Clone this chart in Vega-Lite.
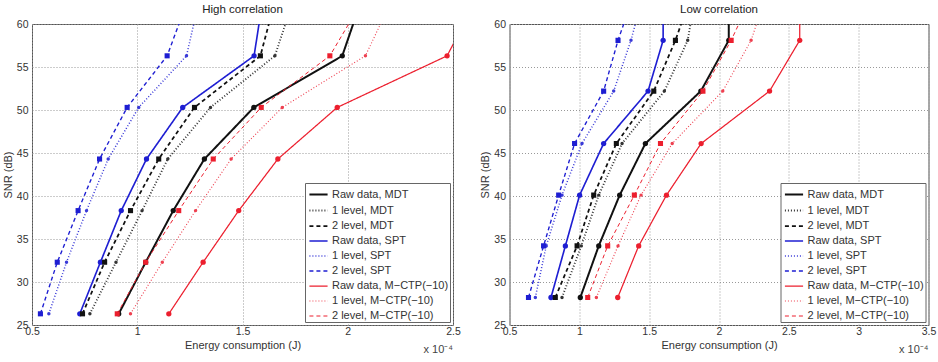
{
  "$schema": "https://vega.github.io/schema/vega-lite/v6.json",
  "padding": {"left": 1, "top": 3, "right": 0, "bottom": 0},
  "background": "white",
  "config": {
    "font": "Liberation Sans",
    "view": {"stroke": "#555", "strokeWidth": 1},
    "axis": {"labelFont": "Liberation Sans", "labelFontSize": 10.5, "labelColor": "#333", "labelFlush": false, "labelOverlap": false, "titleFont": "Liberation Sans", "titleFontSize": 11, "titleFontWeight": "normal", "titleColor": "#333", "gridColor": "#999", "gridDash": [1, 2], "gridOpacity": 1, "ticks": false, "domain": false},
    "axisY": {"labelPadding": 4, "titlePadding": 3},
    "axisX": {"labelPadding": 1, "titlePadding": 3},
    "title": {"font": "Liberation Sans", "fontSize": 11.5, "fontWeight": "normal", "color": "#222", "offset": 4},
    "legend": {"orient": "bottom-right", "offset": 3, "fillColor": "white", "strokeColor": "#666", "padding": 1, "labelFont": "Liberation Sans", "labelFontSize": 11, "labelColor": "#333", "symbolType": "stroke", "symbolSize": 330, "symbolStrokeWidth": 2, "symbolOffset": 2, "rowPadding": -5.6, "labelOffset": 3, "title": null}
  },
  "datasets": {
    "d": [
      {"p": "H", "s": "Raw data, MDT", "snr": 26.3, "e": 0.912}, {"p": "H", "s": "Raw data, MDT", "snr": 32.3, "e": 1.04}, {"p": "H", "s": "Raw data, MDT", "snr": 38.3, "e": 1.171}, {"p": "H", "s": "Raw data, MDT", "snr": 44.3, "e": 1.319}, {"p": "H", "s": "Raw data, MDT", "snr": 50.3, "e": 1.554}, {"p": "H", "s": "Raw data, MDT", "snr": 56.3, "e": 1.974}, {"p": "H", "s": "Raw data, MDT", "snr": 62.3, "e": 2.058},
      {"p": "H", "s": "1 level, MDT", "snr": 26.3, "e": 0.775}, {"p": "H", "s": "1 level, MDT", "snr": 32.3, "e": 0.899}, {"p": "H", "s": "1 level, MDT", "snr": 38.3, "e": 1.023}, {"p": "H", "s": "1 level, MDT", "snr": 44.3, "e": 1.145}, {"p": "H", "s": "1 level, MDT", "snr": 50.3, "e": 1.348}, {"p": "H", "s": "1 level, MDT", "snr": 56.3, "e": 1.654}, {"p": "H", "s": "1 level, MDT", "snr": 62.3, "e": 1.735},
      {"p": "H", "s": "2 level, MDT", "snr": 26.3, "e": 0.74}, {"p": "H", "s": "2 level, MDT", "snr": 32.3, "e": 0.845}, {"p": "H", "s": "2 level, MDT", "snr": 38.3, "e": 0.968}, {"p": "H", "s": "2 level, MDT", "snr": 44.3, "e": 1.102}, {"p": "H", "s": "2 level, MDT", "snr": 50.3, "e": 1.272}, {"p": "H", "s": "2 level, MDT", "snr": 56.3, "e": 1.585}, {"p": "H", "s": "2 level, MDT", "snr": 62.3, "e": 1.65},
      {"p": "H", "s": "Raw data, SPT", "snr": 26.3, "e": 0.727}, {"p": "H", "s": "Raw data, SPT", "snr": 32.3, "e": 0.825}, {"p": "H", "s": "Raw data, SPT", "snr": 38.3, "e": 0.924}, {"p": "H", "s": "Raw data, SPT", "snr": 44.3, "e": 1.044}, {"p": "H", "s": "Raw data, SPT", "snr": 50.3, "e": 1.216}, {"p": "H", "s": "Raw data, SPT", "snr": 56.3, "e": 1.555}, {"p": "H", "s": "Raw data, SPT", "snr": 62.3, "e": 1.593},
      {"p": "H", "s": "1 level, SPT", "snr": 26.3, "e": 0.58}, {"p": "H", "s": "1 level, SPT", "snr": 32.3, "e": 0.664}, {"p": "H", "s": "1 level, SPT", "snr": 38.3, "e": 0.759}, {"p": "H", "s": "1 level, SPT", "snr": 44.3, "e": 0.862}, {"p": "H", "s": "1 level, SPT", "snr": 50.3, "e": 1.007}, {"p": "H", "s": "1 level, SPT", "snr": 56.3, "e": 1.234}, {"p": "H", "s": "1 level, SPT", "snr": 62.3, "e": 1.29},
      {"p": "H", "s": "2 level, SPT", "snr": 26.3, "e": 0.54}, {"p": "H", "s": "2 level, SPT", "snr": 32.3, "e": 0.62}, {"p": "H", "s": "2 level, SPT", "snr": 38.3, "e": 0.719}, {"p": "H", "s": "2 level, SPT", "snr": 44.3, "e": 0.821}, {"p": "H", "s": "2 level, SPT", "snr": 50.3, "e": 0.952}, {"p": "H", "s": "2 level, SPT", "snr": 56.3, "e": 1.142}, {"p": "H", "s": "2 level, SPT", "snr": 62.3, "e": 1.233},
      {"p": "H", "s": "Raw data, M−CTP(−10)", "snr": 26.3, "e": 1.15}, {"p": "H", "s": "Raw data, M−CTP(−10)", "snr": 32.3, "e": 1.313}, {"p": "H", "s": "Raw data, M−CTP(−10)", "snr": 38.3, "e": 1.482}, {"p": "H", "s": "Raw data, M−CTP(−10)", "snr": 44.3, "e": 1.668}, {"p": "H", "s": "Raw data, M−CTP(−10)", "snr": 50.3, "e": 1.95}, {"p": "H", "s": "Raw data, M−CTP(−10)", "snr": 56.3, "e": 2.472}, {"p": "H", "s": "Raw data, M−CTP(−10)", "snr": 62.3, "e": 2.6},
      {"p": "H", "s": "1 level, M−CTP(−10)", "snr": 26.3, "e": 0.968}, {"p": "H", "s": "1 level, M−CTP(−10)", "snr": 32.3, "e": 1.119}, {"p": "H", "s": "1 level, M−CTP(−10)", "snr": 38.3, "e": 1.277}, {"p": "H", "s": "1 level, M−CTP(−10)", "snr": 44.3, "e": 1.446}, {"p": "H", "s": "1 level, M−CTP(−10)", "snr": 50.3, "e": 1.689}, {"p": "H", "s": "1 level, M−CTP(−10)", "snr": 56.3, "e": 2.084}, {"p": "H", "s": "1 level, M−CTP(−10)", "snr": 62.3, "e": 2.2},
      {"p": "H", "s": "2 level, M−CTP(−10)", "snr": 26.3, "e": 0.905}, {"p": "H", "s": "2 level, M−CTP(−10)", "snr": 32.3, "e": 1.04}, {"p": "H", "s": "2 level, M−CTP(−10)", "snr": 38.3, "e": 1.197}, {"p": "H", "s": "2 level, M−CTP(−10)", "snr": 44.3, "e": 1.361}, {"p": "H", "s": "2 level, M−CTP(−10)", "snr": 50.3, "e": 1.589}, {"p": "H", "s": "2 level, M−CTP(−10)", "snr": 56.3, "e": 1.915}, {"p": "H", "s": "2 level, M−CTP(−10)", "snr": 62.3, "e": 2.06},
      {"p": "L", "s": "Raw data, MDT", "snr": 28.2, "e": 1.007}, {"p": "L", "s": "Raw data, MDT", "snr": 34.2, "e": 1.139}, {"p": "L", "s": "Raw data, MDT", "snr": 40.1, "e": 1.289}, {"p": "L", "s": "Raw data, MDT", "snr": 46.1, "e": 1.473}, {"p": "L", "s": "Raw data, MDT", "snr": 52.2, "e": 1.87}, {"p": "L", "s": "Raw data, MDT", "snr": 58.1, "e": 2.07}, {"p": "L", "s": "Raw data, MDT", "snr": 64.1, "e": 2.07},
      {"p": "L", "s": "1 level, MDT", "snr": 28.2, "e": 0.876}, {"p": "L", "s": "1 level, MDT", "snr": 34.2, "e": 1.014}, {"p": "L", "s": "1 level, MDT", "snr": 40.1, "e": 1.139}, {"p": "L", "s": "1 level, MDT", "snr": 46.1, "e": 1.306}, {"p": "L", "s": "1 level, MDT", "snr": 52.2, "e": 1.609}, {"p": "L", "s": "1 level, MDT", "snr": 58.1, "e": 1.776}, {"p": "L", "s": "1 level, MDT", "snr": 64.1, "e": 1.839},
      {"p": "L", "s": "2 level, MDT", "snr": 28.2, "e": 0.828}, {"p": "L", "s": "2 level, MDT", "snr": 34.2, "e": 0.984}, {"p": "L", "s": "2 level, MDT", "snr": 40.1, "e": 1.103}, {"p": "L", "s": "2 level, MDT", "snr": 46.1, "e": 1.265}, {"p": "L", "s": "2 level, MDT", "snr": 52.2, "e": 1.533}, {"p": "L", "s": "2 level, MDT", "snr": 58.1, "e": 1.688}, {"p": "L", "s": "2 level, MDT", "snr": 64.1, "e": 1.818},
      {"p": "L", "s": "Raw data, SPT", "snr": 28.2, "e": 0.797}, {"p": "L", "s": "Raw data, SPT", "snr": 34.2, "e": 0.9}, {"p": "L", "s": "Raw data, SPT", "snr": 40.1, "e": 1.002}, {"p": "L", "s": "Raw data, SPT", "snr": 46.1, "e": 1.174}, {"p": "L", "s": "Raw data, SPT", "snr": 52.2, "e": 1.492}, {"p": "L", "s": "Raw data, SPT", "snr": 58.1, "e": 1.6}, {"p": "L", "s": "Raw data, SPT", "snr": 64.1, "e": 1.6},
      {"p": "L", "s": "1 level, SPT", "snr": 28.2, "e": 0.685}, {"p": "L", "s": "1 level, SPT", "snr": 34.2, "e": 0.763}, {"p": "L", "s": "1 level, SPT", "snr": 40.1, "e": 0.876}, {"p": "L", "s": "1 level, SPT", "snr": 46.1, "e": 1.019}, {"p": "L", "s": "1 level, SPT", "snr": 52.2, "e": 1.246}, {"p": "L", "s": "1 level, SPT", "snr": 58.1, "e": 1.37}, {"p": "L", "s": "1 level, SPT", "snr": 64.1, "e": 1.468},
      {"p": "L", "s": "2 level, SPT", "snr": 28.2, "e": 0.636}, {"p": "L", "s": "2 level, SPT", "snr": 34.2, "e": 0.744}, {"p": "L", "s": "2 level, SPT", "snr": 40.1, "e": 0.852}, {"p": "L", "s": "2 level, SPT", "snr": 46.1, "e": 0.966}, {"p": "L", "s": "2 level, SPT", "snr": 52.2, "e": 1.174}, {"p": "L", "s": "2 level, SPT", "snr": 58.1, "e": 1.277}, {"p": "L", "s": "2 level, SPT", "snr": 64.1, "e": 1.406},
      {"p": "L", "s": "Raw data, M−CTP(−10)", "snr": 28.2, "e": 1.275}, {"p": "L", "s": "Raw data, M−CTP(−10)", "snr": 34.2, "e": 1.425}, {"p": "L", "s": "Raw data, M−CTP(−10)", "snr": 40.1, "e": 1.624}, {"p": "L", "s": "Raw data, M−CTP(−10)", "snr": 46.1, "e": 1.872}, {"p": "L", "s": "Raw data, M−CTP(−10)", "snr": 52.2, "e": 2.362}, {"p": "L", "s": "Raw data, M−CTP(−10)", "snr": 58.1, "e": 2.578}, {"p": "L", "s": "Raw data, M−CTP(−10)", "snr": 64.1, "e": 2.578},
      {"p": "L", "s": "1 level, M−CTP(−10)", "snr": 28.2, "e": 1.122}, {"p": "L", "s": "1 level, M−CTP(−10)", "snr": 34.2, "e": 1.277}, {"p": "L", "s": "1 level, M−CTP(−10)", "snr": 40.1, "e": 1.442}, {"p": "L", "s": "1 level, M−CTP(−10)", "snr": 46.1, "e": 1.665}, {"p": "L", "s": "1 level, M−CTP(−10)", "snr": 52.2, "e": 2.027}, {"p": "L", "s": "1 level, M−CTP(−10)", "snr": 58.1, "e": 2.23}, {"p": "L", "s": "1 level, M−CTP(−10)", "snr": 64.1, "e": 2.353},
      {"p": "L", "s": "2 level, M−CTP(−10)", "snr": 28.2, "e": 1.06}, {"p": "L", "s": "2 level, M−CTP(−10)", "snr": 34.2, "e": 1.203}, {"p": "L", "s": "2 level, M−CTP(−10)", "snr": 40.1, "e": 1.394}, {"p": "L", "s": "2 level, M−CTP(−10)", "snr": 46.1, "e": 1.581}, {"p": "L", "s": "2 level, M−CTP(−10)", "snr": 52.2, "e": 1.885}, {"p": "L", "s": "2 level, M−CTP(−10)", "snr": 58.1, "e": 2.087}, {"p": "L", "s": "2 level, M−CTP(−10)", "snr": 64.1, "e": 2.261}
    ]
  },
  "bounds": "flush",
  "spacing": 56.5,
  "hconcat": [
    {
      "width": 421,
      "height": 301,
      "title": "High correlation",
      "data": {"name": "d"},
      "transform": [{"filter": "datum.p === 'H'"}],
      "layer": [
        {
          "mark": {"type": "line", "clip": true},
          "encoding": {
            "x": {"field": "e", "type": "quantitative", "scale": {"domain": [0.5, 2.5], "nice": false, "zero": false}, "axis": {"values": [0.5, 1, 1.5, 2, 2.5], "format": "~g", "title": "Energy consumption (J)", "grid": true}},
            "y": {"field": "snr", "type": "quantitative", "scale": {"domain": [25, 60], "nice": false, "zero": false}, "axis": {"values": [25, 30, 35, 40, 45, 50, 55, 60], "title": "SNR (dB)", "grid": true}},
            "color": {"field": "s", "type": "nominal", "scale": {"domain": ["Raw data, MDT", "1 level, MDT", "2 level, MDT", "Raw data, SPT", "1 level, SPT", "2 level, SPT", "Raw data, M−CTP(−10)", "1 level, M−CTP(−10)", "2 level, M−CTP(−10)"], "range": ["#111111", "#333333", "#111111", "#1e1ed2", "#3a3ad8", "#1e1ed2", "#ec1f2e", "#ee4050", "#ec1f2e"]}},
            "order": {"field": "snr", "type": "quantitative"},
            "strokeDash": {"field": "s", "type": "nominal", "scale": {"domain": ["Raw data, MDT", "1 level, MDT", "2 level, MDT", "Raw data, SPT", "1 level, SPT", "2 level, SPT", "Raw data, M−CTP(−10)", "1 level, M−CTP(−10)", "2 level, M−CTP(−10)"], "range": [[1, 0], [1, 2], [4, 3], [1, 0], [1, 2], [4, 3], [1, 0], [1, 2], [4, 3]]}},
            "strokeWidth": {"field": "s", "type": "nominal", "scale": {"domain": ["Raw data, MDT", "1 level, MDT", "2 level, MDT", "Raw data, SPT", "1 level, SPT", "2 level, SPT", "Raw data, M−CTP(−10)", "1 level, M−CTP(−10)", "2 level, M−CTP(−10)"], "range": [2, 1, 2, 2, 1, 2, 2, 1, 2]}}
          }
        },
        {"transform": [{"filter": "indexof(datum.s, 'Raw') === 0"}], "mark": {"type": "point", "filled": true, "opacity": 1, "clip": true, "shape": "circle", "size": 28}, "encoding": {"x": {"field": "e", "type": "quantitative"}, "y": {"field": "snr", "type": "quantitative"}, "color": {"field": "s", "type": "nominal"}}},
        {"transform": [{"filter": "indexof(datum.s, '1 level') === 0"}], "mark": {"type": "point", "filled": true, "opacity": 1, "clip": true, "shape": "circle", "size": 12}, "encoding": {"x": {"field": "e", "type": "quantitative"}, "y": {"field": "snr", "type": "quantitative"}, "color": {"field": "s", "type": "nominal"}}},
        {"transform": [{"filter": "indexof(datum.s, '2 level') === 0"}], "mark": {"type": "point", "filled": true, "opacity": 1, "clip": true, "shape": "square", "size": 26}, "encoding": {"x": {"field": "e", "type": "quantitative"}, "y": {"field": "snr", "type": "quantitative"}, "color": {"field": "s", "type": "nominal"}}},
        {
          "transform": [{"filter": "datum.s === 'Raw data, MDT' && datum.snr < 27"}],
          "mark": {"type": "text", "align": "right", "baseline": "middle", "dy": 25, "fontSize": 11, "color": "#444"},
          "encoding": {"x": {"datum": 2.5}, "y": {"datum": 25}, "text": {"value": "x 10⁻⁴"}}
        }
      ]
    },
    {
      "width": 419,
      "height": 301,
      "title": "Low correlation",
      "data": {"name": "d"},
      "transform": [{"filter": "datum.p === 'L'"}],
      "layer": [
        {
          "mark": {"type": "line", "clip": true},
          "encoding": {
            "x": {"field": "e", "type": "quantitative", "scale": {"domain": [0.5, 3.5], "nice": false, "zero": false}, "axis": {"values": [0.5, 1, 1.5, 2, 2.5, 3, 3.5], "format": "~g", "title": "Energy consumption (J)", "grid": true}},
            "y": {"field": "snr", "type": "quantitative", "scale": {"domain": [25, 60], "nice": false, "zero": false}, "axis": {"values": [25, 30, 35, 40, 45, 50, 55, 60], "title": "SNR (dB)", "grid": true}},
            "color": {"field": "s", "type": "nominal", "scale": {"domain": ["Raw data, MDT", "1 level, MDT", "2 level, MDT", "Raw data, SPT", "1 level, SPT", "2 level, SPT", "Raw data, M−CTP(−10)", "1 level, M−CTP(−10)", "2 level, M−CTP(−10)"], "range": ["#111111", "#333333", "#111111", "#1e1ed2", "#3a3ad8", "#1e1ed2", "#ec1f2e", "#ee4050", "#ec1f2e"]}},
            "order": {"field": "snr", "type": "quantitative"},
            "strokeDash": {"field": "s", "type": "nominal", "scale": {"domain": ["Raw data, MDT", "1 level, MDT", "2 level, MDT", "Raw data, SPT", "1 level, SPT", "2 level, SPT", "Raw data, M−CTP(−10)", "1 level, M−CTP(−10)", "2 level, M−CTP(−10)"], "range": [[1, 0], [1, 2], [4, 3], [1, 0], [1, 2], [4, 3], [1, 0], [1, 2], [4, 3]]}},
            "strokeWidth": {"field": "s", "type": "nominal", "scale": {"domain": ["Raw data, MDT", "1 level, MDT", "2 level, MDT", "Raw data, SPT", "1 level, SPT", "2 level, SPT", "Raw data, M−CTP(−10)", "1 level, M−CTP(−10)", "2 level, M−CTP(−10)"], "range": [2, 1, 2, 2, 1, 2, 2, 1, 2]}}
          }
        },
        {"transform": [{"filter": "indexof(datum.s, 'Raw') === 0"}], "mark": {"type": "point", "filled": true, "opacity": 1, "clip": true, "shape": "circle", "size": 28}, "encoding": {"x": {"field": "e", "type": "quantitative"}, "y": {"field": "snr", "type": "quantitative"}, "color": {"field": "s", "type": "nominal"}}},
        {"transform": [{"filter": "indexof(datum.s, '1 level') === 0"}], "mark": {"type": "point", "filled": true, "opacity": 1, "clip": true, "shape": "circle", "size": 12}, "encoding": {"x": {"field": "e", "type": "quantitative"}, "y": {"field": "snr", "type": "quantitative"}, "color": {"field": "s", "type": "nominal"}}},
        {"transform": [{"filter": "indexof(datum.s, '2 level') === 0"}], "mark": {"type": "point", "filled": true, "opacity": 1, "clip": true, "shape": "square", "size": 26}, "encoding": {"x": {"field": "e", "type": "quantitative"}, "y": {"field": "snr", "type": "quantitative"}, "color": {"field": "s", "type": "nominal"}}},
        {
          "transform": [{"filter": "datum.s === 'Raw data, MDT' && datum.snr < 29"}],
          "mark": {"type": "text", "align": "right", "baseline": "middle", "dy": 25, "fontSize": 11, "color": "#444"},
          "encoding": {"x": {"datum": 3.5}, "y": {"datum": 25}, "text": {"value": "x 10⁻⁴"}}
        }
      ]
    }
  ],
  "resolve": {"scale": {"color": "independent", "strokeDash": "independent", "strokeWidth": "independent"}, "legend": {"color": "independent", "strokeDash": "independent", "strokeWidth": "independent"}}
}
